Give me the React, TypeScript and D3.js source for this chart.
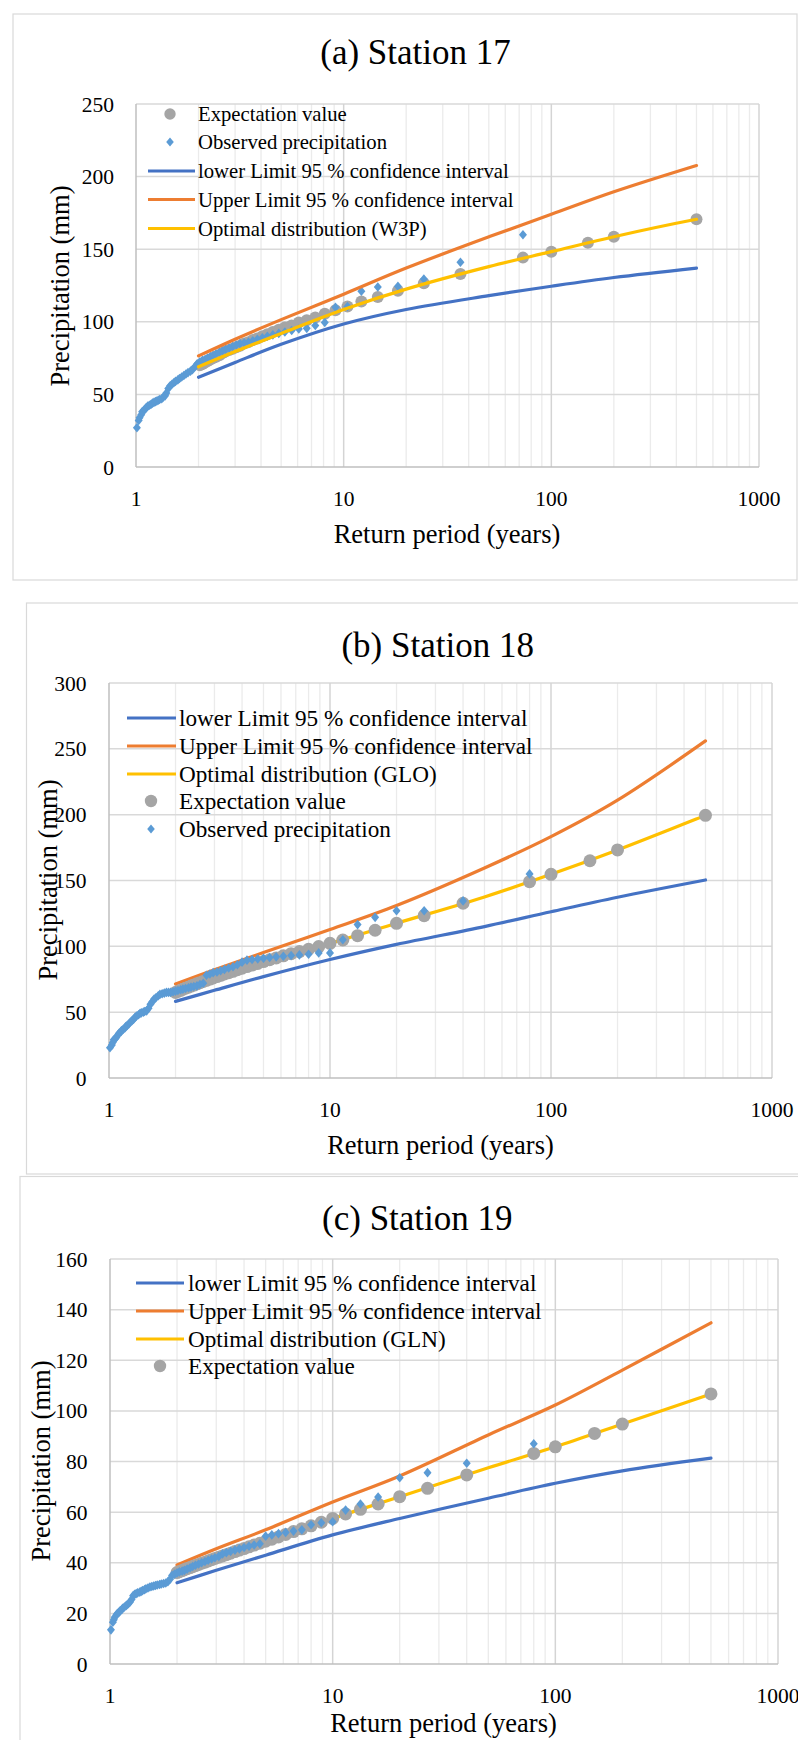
import React from "react";
import * as d3 from "d3";

// ---- data ----

// return periods (years) of the ranked observations, station 17
const periodsA = [73, 36.5, 24.33, 18.25, 14.6, 12.17, 10.43, 9.13, 8.11, 7.3,
  6.64, 6.08, 5.62, 5.21, 4.87, 4.56, 4.29, 4.06, 3.84, 3.65,
  3.48, 3.32, 3.17, 3.04, 2.92, 2.81, 2.7, 2.61, 2.52, 2.43,
  2.35, 2.28, 2.21, 2.15, 2.09, 2.03, 1.97, 1.92, 1.87, 1.83,
  1.78, 1.74, 1.7, 1.66, 1.62, 1.59, 1.55, 1.52, 1.49, 1.46,
  1.43, 1.4, 1.38, 1.35, 1.33, 1.3, 1.28, 1.26, 1.24, 1.22,
  1.2, 1.18, 1.16, 1.14, 1.12, 1.11, 1.09, 1.07, 1.06, 1.04,
  1.03, 1.01];
const observedA = [160, 141, 129.5, 124.5, 124, 121, 110.5, 110, 99.5, 97.5,
  95.5, 95, 94, 93, 92, 91, 90, 89, 88, 87,
  86, 85.5, 85, 84, 83, 82, 81, 80, 79, 78,
  77, 76, 75, 74, 73.5, 72.5, 71, 69, 67, 66,
  65, 64, 63, 62, 61, 60, 59, 58, 57, 56,
  54, 51, 49, 48, 47, 46.5, 46, 45.5, 45, 44.5,
  44, 43, 42.5, 42, 41, 40, 39, 38, 36, 34,
  32, 27];
const expPeriodsA = [500, 200, 150, 100, 73, 36.5, 24.33, 18.25, 14.6, 12.17,
  10.43, 9.13, 8.11, 7.3, 6.64, 6.08, 5.62, 5.21, 4.87, 4.56,
  4.29, 4.06, 3.84, 3.65, 3.48, 3.32, 3.17, 3.04, 2.92, 2.81,
  2.7, 2.61, 2.52, 2.43, 2.35, 2.28, 2.21, 2.15, 2.09, 2.03];
const expectationA = [170.6, 158.6, 154.5, 148.3, 144.2, 133, 126.5, 121.4, 117, 114,
  110.5, 108, 105.5, 103, 101, 99.5, 97.5, 96, 94.5, 93,
  91.5, 90, 88.5, 87.5, 86, 85, 83.5, 82.5, 81.5, 80.5,
  79.5, 78.5, 77, 76, 75, 74, 73, 72, 71, 70];

// stations 18 and 19 share the same record length
const periodsBC = [80, 40, 26.67, 20, 16, 13.33, 11.43, 10, 8.89, 8,
  7.27, 6.67, 6.15, 5.71, 5.33, 5, 4.71, 4.44, 4.21, 4,
  3.81, 3.64, 3.48, 3.33, 3.2, 3.08, 2.96, 2.86, 2.76, 2.67,
  2.58, 2.5, 2.42, 2.35, 2.29, 2.22, 2.16, 2.11, 2.05, 2,
  1.95, 1.9, 1.86, 1.82, 1.78, 1.74, 1.7, 1.67, 1.63, 1.6,
  1.57, 1.54, 1.51, 1.48, 1.45, 1.43, 1.4, 1.38, 1.36, 1.33,
  1.31, 1.29, 1.27, 1.25, 1.23, 1.21, 1.19, 1.18, 1.16, 1.14,
  1.13, 1.11, 1.1, 1.08, 1.07, 1.05, 1.04, 1.03, 1.01];
const expPeriodsBC = [500, 200, 150, 100, 80, 40, 26.67, 20, 16, 13.33,
  11.43, 10, 8.89, 8, 7.27, 6.67, 6.15, 5.71, 5.33, 5,
  4.71, 4.44, 4.21, 4, 3.81, 3.64, 3.48, 3.33, 3.2, 3.08,
  2.96, 2.86, 2.76, 2.67, 2.58, 2.5, 2.42, 2.35, 2.29, 2.22,
  2.16, 2.11, 2.05, 2];

const observedB = [155, 134.5, 127, 127, 122, 116.5, 105, 95, 95, 94,
  93.5, 93, 92.5, 92, 91.5, 91, 90.5, 90, 89.5, 88,
  86, 84.5, 83.5, 82.5, 81.5, 80.5, 80, 79, 78, 72,
  71, 70, 69.5, 69, 68.5, 68, 67.5, 67, 66.5, 66,
  65.5, 65, 65, 65, 64.5, 64, 63.5, 62.5, 61, 60,
  58, 56, 53, 51, 50.5, 50, 49.5, 49, 48, 47,
  46, 44.5, 43.5, 42.5, 41, 40, 39, 38, 37, 36,
  35, 34, 33, 31, 30, 29, 27, 25, 23];
const expectationB = [199.5, 173.2, 165, 154.7, 149.1, 132.7, 123.3, 117.5, 112.2, 108.1,
  104.8, 102.3, 99.8, 97.8, 96, 94.4, 92.8, 91.2, 89.8, 88.4,
  87, 85.8, 84.6, 83.4, 82.2, 81, 80, 79, 78, 77,
  76, 75.1, 74.2, 73.3, 72.4, 71.5, 70.6, 69.8, 69, 68.2,
  67.4, 66.6, 65.8, 65];

const observedC = [87, 79.3, 75.6, 73.6, 66, 63.2, 60.8, 56.2, 55.8, 55,
  53, 52.5, 52, 51.5, 51, 50.5, 47.5, 47, 46.5, 46,
  45.5, 45, 44.5, 44, 43.5, 42.5, 42, 41.5, 41, 40.5,
  40, 39.5, 39, 38.5, 38, 37.5, 37, 36.7, 36.4, 36,
  35.5, 35, 33.5, 32.5, 32, 31.8, 31.6, 31.4, 31.2, 31,
  30.8, 30.6, 30.4, 30, 29.7, 29.4, 29, 28.7, 28.4, 28.1,
  27.8, 27.5, 27, 25.5, 24.5, 23.8, 23.3, 23, 22.5, 22,
  21.5, 21, 20.5, 20, 19.5, 18.5, 17.5, 16.5, 13.5];
const expectationC = [106.7, 94.8, 91.1, 85.8, 83.2, 74.7, 69.4, 66.1, 63.2, 61.1,
  59.3, 57.5, 56, 54.6, 53.4, 52.3, 51.2, 50.2, 49.3, 48.5,
  47.7, 47, 46.3, 45.6, 45, 44.4, 43.8, 43.2, 42.7, 42.2,
  41.7, 41.2, 40.7, 40.2, 39.8, 39.3, 38.9, 38.5, 38.1, 37.7,
  37.3, 36.9, 36.5, 36.1];

// curves: confidence limits and fitted distribution
const curvePeriods = [2, 3, 5, 10, 20, 50, 100, 200, 500];
const lowerA = [61.8, 72, 84.5, 98.5, 108.5, 118, 124.5, 130.5, 137];
const upperA = [76.5, 88, 101.5, 119, 137, 158.5, 174, 189.5, 207.6];
const optimalA = [69, 79.5, 92, 108.5, 122.5, 138, 148.3, 158.6, 170.6];
const lowerB = [58.2, 66.6, 77, 90, 101.5, 115, 126.3, 137.3, 150.4];
const upperB = [71.4, 82.2, 95.3, 112.8, 131, 159.5, 183.3, 211, 256];
const optimalB = [65, 76.5, 88.4, 102.3, 117.5, 137.5, 154.7, 173.2, 199.5];
const lowerC = [32.1, 37, 43, 51, 57.5, 65.5, 71.4, 76.3, 81.3];
const upperC = [39.1, 45.5, 53, 64, 74.3, 90.5, 102.3, 116.1, 134.8];
const optimalC = [36, 42.3, 48.5, 57.5, 66.1, 77.5, 85.8, 94.8, 106.7];

const xTickValues = [1, 10, 100, 1000];

const FONT = "'Palatino Linotype', 'Book Antiqua', Palatino, 'Liberation Serif', 'Times New Roman', serif";
const BLUE = "#4472c4";
const ORANGE = "#ed7d31";
const YELLOW = "#ffc000";
const GRAY = "#a5a5a5";
const DIAMOND = "#5b9bd5";

const LABELS: Record<string, string> = {
  exp: "Expectation value",
  obs: "Observed precipitation",
  lower: "lower Limit 95 % confidence interval",
  upper: "Upper Limit 95 % confidence interval",
};

function diamond(x: number, y: number, w = 4, h = 4.8) {
  return `M${x},${y - h}L${x + w},${y}L${x},${y + h}L${x - w},${y}Z`;
}

function Panel({ cfg }: { cfg: any }) {
  const x = d3.scaleLog().domain([1, 1000]).range([cfg.left, cfg.right]);
  const y = d3.scaleLinear().domain([0, cfg.yMax]).range([cfg.bottom, cfg.top]);
  const yTicks = d3.range(0, cfg.yMax + 1, cfg.yStep);
  const minor: number[] = [];
  [1, 10, 100].forEach((d) => d3.range(2, 10).forEach((k) => minor.push(d * k)));

  const line = d3.line<number>()
    .x((_, i) => x(curvePeriods[i]))
    .y((d) => y(d))
    .curve(d3.curveCatmullRom.alpha(0.5));

  const lineColor: Record<string, string> = { lower: BLUE, upper: ORANGE, optimal: YELLOW };
  const lineData: Record<string, number[]> = { lower: cfg.lower, upper: cfg.upper, optimal: cfg.optimal };

  const layers = cfg.order.map((key: string) => {
    if (key === "exp") {
      return (
        <g key={key}>
          {cfg.expectation.map((v: number, i: number) => (
            <circle key={i} cx={x(cfg.expPeriods[i])} cy={y(v)} r={cfg.r} fill={GRAY} />
          ))}
        </g>
      );
    }
    if (key === "obs") {
      return (
        <g key={key}>
          {cfg.observed.map((v: number, i: number) => (
            <path key={i} d={diamond(x(cfg.periods[i]), y(v))} fill={DIAMOND} />
          ))}
        </g>
      );
    }
    return (
      <path key={key} d={line(lineData[key]) || ""} fill="none"
        stroke={lineColor[key]} strokeWidth={3.2} strokeLinecap="round" />
    );
  });

  return (
    <g fontFamily={FONT} fill="#000">
      <rect x={cfg.box[0]} y={cfg.box[1]} width={cfg.box[2]} height={cfg.box[3]}
        fill="#fff" stroke="#d9d9d9" strokeWidth={1.2} />
      <text x={cfg.titleX} y={cfg.titleY} fontSize={35} textAnchor="middle">{cfg.title}</text>

      {minor.map((t) => (
        <line key={"m" + t} x1={x(t)} x2={x(t)} y1={cfg.top} y2={cfg.bottom} stroke="#ebebeb" strokeWidth={1.3} />
      ))}
      {yTicks.filter((t: number) => t > 0).map((t: number) => (
        <line key={"h" + t} x1={cfg.left} x2={cfg.right} y1={y(t)} y2={y(t)} stroke="#d9d9d9" strokeWidth={1.5} />
      ))}
      {[10, 100, 1000].map((t) => (
        <line key={"v" + t} x1={x(t)} x2={x(t)} y1={cfg.top} y2={cfg.bottom} stroke="#d4d4d4" strokeWidth={1.5} />
      ))}
      <line x1={cfg.left} x2={cfg.left} y1={cfg.top} y2={cfg.bottom} stroke="#bfbfbf" strokeWidth={1.5} />
      <line x1={cfg.left} x2={cfg.right} y1={cfg.bottom} y2={cfg.bottom} stroke="#bfbfbf" strokeWidth={1.5} />

      {yTicks.map((t: number) => (
        <text key={"yt" + t} x={cfg.yTickX} y={y(t)} dy="0.35em" fontSize={21.5} textAnchor="end">{t}</text>
      ))}
      {xTickValues.map((t) => (
        <text key={"xt" + t} x={x(t)} y={cfg.xTickY} fontSize={21.5} textAnchor="middle">{t}</text>
      ))}
      <text x={cfg.xTitleX} y={cfg.xTitleY} fontSize={26.5} textAnchor="middle">Return period (years)</text>
      <text transform={`translate(${cfg.yTitleX},${cfg.yTitleY}) rotate(-90)`} dy="0.35em"
        fontSize={26.5} textAnchor="middle">Precipitation (mm)</text>

      {layers}

      {cfg.legend.map((key: string, i: number) => {
        const ly = cfg.legendRows[i];
        const label = LABELS[key] || cfg.optimalLabel;
        let mark;
        if (key === "exp") mark = <circle cx={cfg.legendMark} cy={ly} r={cfg.r - 0.3} fill={GRAY} />;
        else if (key === "obs") mark = <path d={diamond(cfg.legendMark, ly, 3.8, 4.6)} fill={DIAMOND} />;
        else mark = <line x1={cfg.legendLine[0]} x2={cfg.legendLine[1]} y1={ly} y2={ly}
          stroke={lineColor[key]} strokeWidth={3.2} />;
        return (
          <g key={"lg" + key}>
            {mark}
            <text x={cfg.legendText} y={ly} dy="0.35em" fontSize={cfg.legendSize}>{label}</text>
          </g>
        );
      })}
    </g>
  );
}

const panels = [
  {
    title: "(a) Station 17", titleX: 415.5, titleY: 64,
    box: [13, 14, 784, 566],
    left: 136, right: 759, top: 104, bottom: 467, yMax: 250, yStep: 50,
    yTickX: 114, xTickY: 506, xTitleX: 447, xTitleY: 543, yTitleX: 60, yTitleY: 286,
    periods: periodsA, observed: observedA, expPeriods: expPeriodsA, expectation: expectationA,
    lower: lowerA, upper: upperA, optimal: optimalA, optimalLabel: "Optimal distribution (W3P)",
    order: ["exp", "obs", "lower", "upper", "optimal"],
    legend: ["exp", "obs", "lower", "upper", "optimal"],
    legendRows: [114, 142, 171, 199.5, 228.5], legendLine: [148, 195], legendMark: 170, legendText: 198,
    legendSize: 20.7, r: 6,
  },
  {
    title: "(b) Station 18", titleX: 437.7, titleY: 657,
    box: [26.5, 603, 800, 571],
    left: 109, right: 772, top: 683, bottom: 1078, yMax: 300, yStep: 50,
    yTickX: 86.5, xTickY: 1117, xTitleX: 440.5, xTitleY: 1154, yTitleX: 48, yTitleY: 880,
    periods: periodsBC, observed: observedB, expPeriods: expPeriodsBC, expectation: expectationB,
    lower: lowerB, upper: upperB, optimal: optimalB, optimalLabel: "Optimal distribution (GLO)",
    order: ["lower", "upper", "optimal", "exp", "obs"],
    legend: ["lower", "upper", "optimal", "exp", "obs"],
    legendRows: [718, 746, 774, 801, 829], legendLine: [127, 176], legendMark: 151, legendText: 179,
    legendSize: 23.2, r: 6.5,
  },
  {
    title: "(c) Station 19", titleX: 417.3, titleY: 1230,
    box: [20, 1176.5, 800, 600],
    left: 110, right: 778, top: 1259, bottom: 1664, yMax: 160, yStep: 20,
    yTickX: 87.5, xTickY: 1702.5, xTitleX: 443.5, xTitleY: 1732, yTitleX: 41, yTitleY: 1461,
    periods: periodsBC, observed: observedC, expPeriods: expPeriodsBC, expectation: expectationC,
    lower: lowerC, upper: upperC, optimal: optimalC, optimalLabel: "Optimal distribution (GLN)",
    order: ["lower", "upper", "optimal", "exp", "obs"],
    legend: ["lower", "upper", "optimal", "exp"],
    legendRows: [1283, 1311, 1339, 1366], legendLine: [136, 184], legendMark: 160, legendText: 188,
    legendSize: 23.2, r: 6.5,
  },
];

export default function App() {
  return (
    <svg width={798} height={1740} style={{ position: "absolute", left: 0, top: 0, background: "#fff" }}>
      <rect width={798} height={1740} fill="#fff" />
      {panels.map((p) => <Panel key={p.title} cfg={p} />)}
    </svg>
  );
}
